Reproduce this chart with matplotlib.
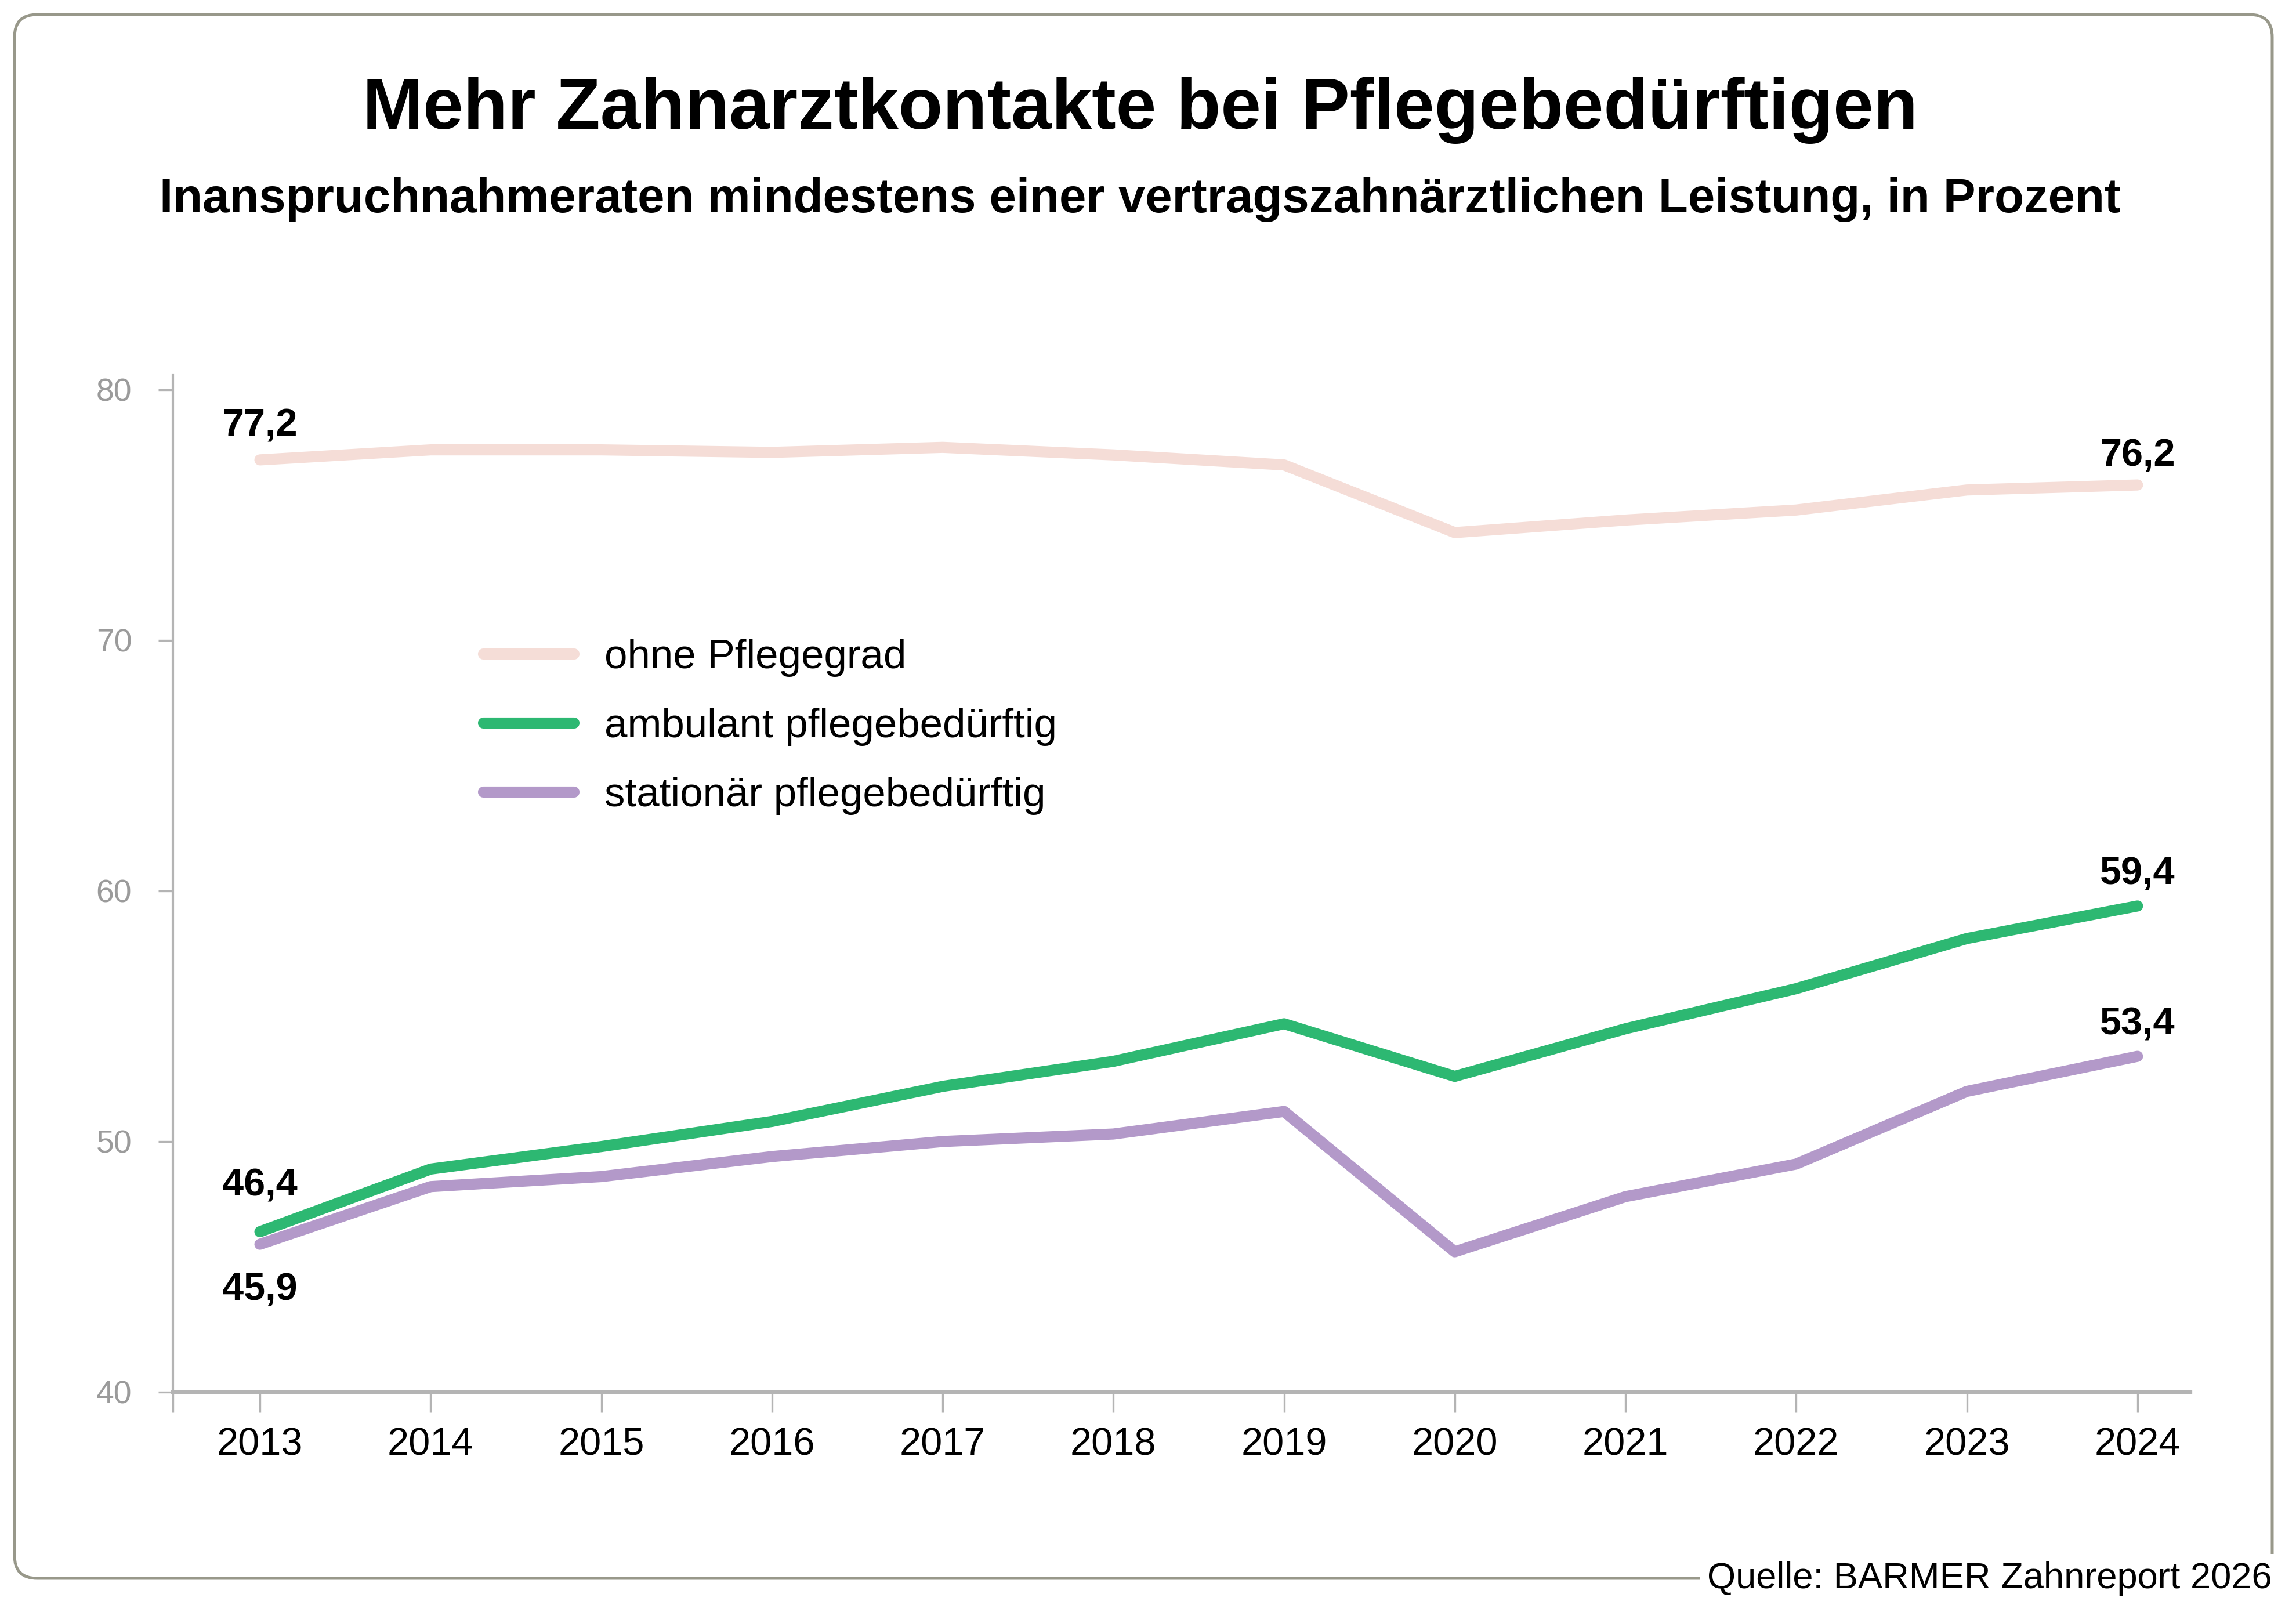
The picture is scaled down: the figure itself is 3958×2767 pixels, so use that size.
import numpy as np
import matplotlib.pyplot as plt
from matplotlib.patches import FancyBboxPatch

plt.rcParams['font.family'] = ['Liberation Sans', 'DejaVu Sans']

# --- Data (Inanspruchnahmeraten in Prozent) ---
years = [2013, 2014, 2015, 2016, 2017, 2018, 2019, 2020, 2021, 2022, 2023, 2024]
ohne = [77.2, 77.6, 77.6, 77.5, 77.7, 77.4, 77.0, 74.3, 74.8, 75.2, 76.0, 76.2]
ambulant = [46.4, 48.9, 49.8, 50.8, 52.2, 53.2, 54.7, 52.6, 54.5, 56.1, 58.1, 59.4]
stationaer = [45.9, 48.2, 48.6, 49.4, 50.0, 50.3, 51.2, 45.6, 47.8, 49.1, 52.0, 53.4]
labels = ["ohne Pflegegrad", "ambulant pflegebedürftig", "stationär pflegebedürftig"]
yticks = [40, 50, 60, 70, 80]

# --- Colors ---
pink = "#F5DDD7"
green = "#2DB872"
purple = "#B399C9"
axis_gray = "#B4B4B4"
frame_gray = "#98988A"

fig = plt.figure(figsize=(3958/300, 2767/300), dpi=300)
ax = fig.add_axes([298/3958, 1-2400/2767, (3776-298)/3958, (2400-646)/2767])

lw = 4.6
ax.plot(years, ohne, color=pink, lw=lw, solid_capstyle='round', solid_joinstyle='round', label=labels[0])
ax.plot(years, ambulant, color=green, lw=lw, solid_capstyle='round', solid_joinstyle='round', label=labels[1])
ax.plot(years, stationaer, color=purple, lw=lw, solid_capstyle='round', solid_joinstyle='round', label=labels[2])

ax.set_xlim(2012.49, 2024.31)
ax.set_ylim(40, 80.6)

# value labels at first and last year
def lab(x, y, dy):
    ax.annotate(f"{y:.1f}".replace(".", ","), (x, y), xytext=(0, dy), textcoords='offset points',
                ha='center', va='center', fontsize=16, fontweight='bold', color='black')

lab(years[0], ohne[0], 14)
lab(years[-1], ohne[-1], 12)
lab(years[0], ambulant[0], 19)
lab(years[-1], ambulant[-1], 13)
lab(years[0], stationaer[0], -19)
lab(years[-1], stationaer[-1], 13)

# axes styling
for s in ['top', 'right']:
    ax.spines[s].set_visible(False)
ax.spines['left'].set_color(axis_gray)
ax.spines['left'].set_linewidth(1.0)
ax.spines['bottom'].set_color(axis_gray)
ax.spines['bottom'].set_linewidth(1.5)

ax.set_yticks(yticks)
ax.tick_params(axis='y', length=6, width=0.8, color=axis_gray, labelsize=13.3, labelcolor='#9B9B9B', pad=11)
ax.set_xticks([2012.49] + years)
ax.set_xticklabels([""] + [str(y) for y in years])
ax.tick_params(axis='x', length=8.5, width=0.8, color=axis_gray, labelsize=16, labelcolor='black', pad=6)

leg = ax.legend(loc='upper left', bbox_to_anchor=(833/3958, 1-1101/2767), bbox_transform=fig.transFigure,
                frameon=False, fontsize=17, handlelength=2.2, handletextpad=0.75, labelspacing=0.75,
                borderpad=0, borderaxespad=0)

# titles
fig.text(0.4965, 1-222/2767, "Mehr Zahnarztkontakte bei Pflegebedürftigen", ha='center', va='baseline',
         fontsize=30, fontweight='bold')
fig.text(0.4965, 1-366/2767, "Inanspruchnahmeraten mindestens einer vertragszahnärztlichen Leistung, in Prozent",
         ha='center', va='baseline', fontsize=20, fontweight='bold')

# rounded frame
frame = FancyBboxPatch((25/300, 46/300), (3917-25)/300, (2721-25)/300,
                       boxstyle="round,pad=0,rounding_size=0.13", transform=fig.dpi_scale_trans,
                       fill=False, edgecolor=frame_gray, lw=1.2)
fig.patches.append(frame)

fig.text(3917/3958, 1-2738/2767, "Quelle: BARMER Zahnreport 2026", ha='right', va='baseline', fontsize=15.2,
         bbox=dict(facecolor='white', edgecolor='none', pad=3))

fig.savefig("out.png", dpi=300)
